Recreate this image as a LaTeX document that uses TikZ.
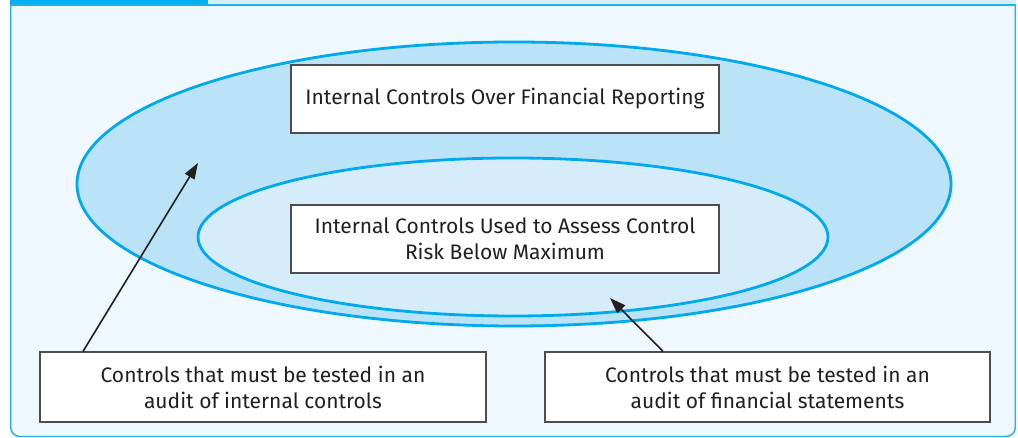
\documentclass[tikz,border=0pt]{standalone}
\usepackage{fontspec}
\setmainfont{Fira Sans}
\usepackage{xcolor}
\usetikzlibrary{arrows.meta,positioning}

\definecolor{framebg}{HTML}{EEF8FE}
\definecolor{frameline}{HTML}{1EB1EC}
\definecolor{bardark}{HTML}{00B0F0}
\definecolor{barlight}{HTML}{D4EEFB}
\definecolor{outerfill}{HTML}{BBE3F8}
\definecolor{innerfill}{HTML}{D5EDFA}
\definecolor{ringline}{HTML}{00A9EC}
\definecolor{inktext}{HTML}{231F20}

\begin{document}
\begin{tikzpicture}[x=1pt,y=1pt,
  ring/.style={draw=ringline,line width=2.8pt},
  label box/.style={draw=inktext!80,line width=1.2pt,fill=white,align=center,
    font=\fontsize{21}{26}\selectfont,text=inktext,inner sep=0pt},
  arr/.style={-{Triangle[length=16pt,width=11pt]},line width=1.6pt,draw=inktext}
]
\useasboundingbox (0,0) rectangle (1018,438);
% frame and header strip
\fill[barlight] (208,433) rectangle (1016,438);
\fill[bardark] (10,433) rectangle (208,438);
\draw[frameline,line width=1.4pt,fill=framebg,rounded corners=9pt]
  (10.7,433) -- (10.7,1.5) -- (1015.3,1.5) -- (1015.3,433);
\draw[frameline,line width=1.4pt] (10,433) -- (1016,433);

% nested ellipses
\draw[ring,fill=outerfill] (514,254) ellipse [x radius=437,y radius=142];
\draw[ring,fill=innerfill] (513,201) ellipse [x radius=315,y radius=79];

% boxes
\node[label box,minimum width=428pt,minimum height=68pt] (icfr) at (505,339)
  {Internal Controls Over Financial Reporting};
\node[label box,minimum width=428pt,minimum height=68pt] (assess) at (505,199)
  {Internal Controls Used to Assess Control\\Risk Below Maximum};
\node[label box,minimum width=446pt,minimum height=70pt] (icaudit) at (263,51)
  {Controls that must be tested in an\\audit of internal controls};
\node[label box,minimum width=445pt,minimum height=70pt] (fsaudit) at (767.5,51)
  {Controls that must be tested in an\\audit of financial statements};

% pointers
\coordinate (ictip) at (198,275);
\coordinate (fstip) at (610,140);
\draw[arr] (icaudit.north -| 83,0) -- (ictip);
\draw[arr] (fsaudit.north -| 663,0) -- (fstip);
\end{tikzpicture}
\end{document}
